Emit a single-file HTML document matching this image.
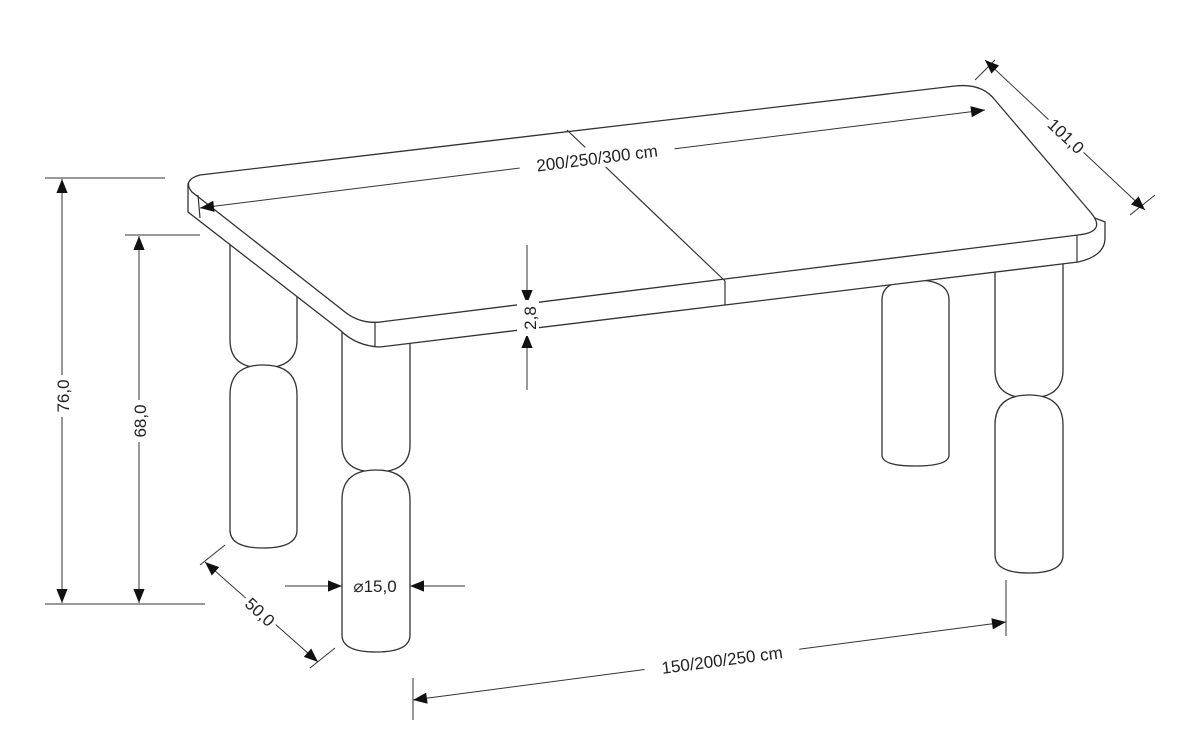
<!DOCTYPE html>
<html><head><meta charset="utf-8"><style>
html,body{margin:0;padding:0;background:#fff;}
svg{display:block;}
text{font-family:"Liberation Sans",sans-serif;font-size:17px;fill:#222;}
</style></head><body>
<svg width="1181" height="743" viewBox="0 0 1181 743" xmlns="http://www.w3.org/2000/svg">
<defs>
<marker id="a" viewBox="0 0 10 10" refX="10" refY="5" markerWidth="26" markerHeight="14" markerUnits="userSpaceOnUse" orient="auto-start-reverse"><path d="M0,1 L10,5 L0,9 Z" fill="#111"/></marker>
</defs>
<g fill="#fff" stroke="#333" stroke-width="1.3">
<path d="M882,300 L882,455 Q882,466 915,466 Q949,466 949,455 L949,300 Q949,280 915,280 Q882,280 882,300 Z"/>
<path d="M230,236 L230,340 Q230,368 263,368 Q297,368 297,340 L297,236 Z"/>
<path d="M230,395 Q230,365 263,365 Q297,365 297,395 L297,530 Q297,548 263,548 Q230,548 230,530 Z"/>
<path d="M995,255 L995,370 Q995,398 1029,398 Q1063,398 1063,370 L1063,255 Z"/>
<path d="M995,425 Q995,395 1029,395 Q1063,395 1063,425 L1063,555 Q1063,573 1029,573 Q995,573 995,555 Z"/>
<path d="M342,330 L342,445 Q342,472 376,472 Q410,472 410,445 L410,330 Z"/>
<path d="M342,500 Q342,470 376,470 Q410,470 410,500 L410,635 Q410,652 376,652 Q342,652 342,635 Z"/>
<path d="M188,185 L188,212 L340,330 Q356,346 380,347 L1078,262 Q1105,256 1105,238 L1105,222 L1095,218 L380,322 Q362,324 352,314 L192,192 Z"/>
<path d="M200,175 L955,86 Q982,83 995,100 L1092,214 Q1106,232 1078,235 L380,322 Q360,324 345,312 L192,192 Q182,180 200,175 Z"/>
</g>
<g stroke="#333" stroke-width="1.2" fill="none">
<line x1="375" y1="322" x2="375" y2="347"/>
<line x1="1077" y1="235" x2="1077" y2="262"/>
<line x1="567" y1="130" x2="725" y2="281"/>
<line x1="725" y1="281" x2="725" y2="305"/>
<line x1="198" y1="195" x2="200" y2="218"/>
</g>
<g stroke="#333" stroke-width="1" fill="none">
<line x1="45" y1="178" x2="165" y2="178"/>
<line x1="45" y1="604" x2="205" y2="604"/>
<line x1="125" y1="235" x2="200" y2="235"/>
<line x1="975" y1="80" x2="995" y2="60"/>
<line x1="1130" y1="215" x2="1155" y2="195"/>
<line x1="200" y1="565" x2="225" y2="545"/>
<line x1="310" y1="668" x2="335" y2="648"/>
<line x1="413" y1="678" x2="413" y2="720"/>
<line x1="1006" y1="580" x2="1006" y2="636"/>
<line x1="285" y1="586" x2="300" y2="586"/>
<line x1="450" y1="586" x2="465" y2="586"/>
</g>
<g stroke="#333" stroke-width="1" fill="none" marker-end="url(#a)" marker-start="url(#a)">
<line x1="62" y1="179" x2="62" y2="603"/>
<line x1="139" y1="236" x2="139" y2="603"/>
<line x1="200" y1="208" x2="985" y2="110"/>
<line x1="985" y1="60" x2="1145" y2="210"/>
<line x1="205" y1="562" x2="318" y2="662"/>
<line x1="413" y1="700" x2="1006" y2="622"/>
</g>
<g stroke="#333" stroke-width="1" fill="none" marker-end="url(#a)">
<line x1="527" y1="245" x2="527" y2="304"/>
<line x1="527" y1="390" x2="527" y2="334"/>
<line x1="290" y1="586" x2="342" y2="586"/>
<line x1="460" y1="586" x2="410" y2="586"/>
</g>
<g>
<rect x="50" y="375" width="24" height="42" fill="#fff"/>
<text transform="translate(69,396) rotate(-90)" text-anchor="middle">76,0</text>
<rect x="127" y="400" width="24" height="42" fill="#fff"/>
<text transform="translate(146,421) rotate(-90)" text-anchor="middle">68,0</text>
<rect x="517" y="300" width="22" height="36" fill="#fff"/>
<text transform="translate(536,318) rotate(-90)" text-anchor="middle">2,8</text>
<rect x="348" y="576" width="55" height="20" fill="#fff"/>
<text x="375" y="592" text-anchor="middle">⌀15,0</text>
<g transform="translate(597,158) rotate(-7.2)"><rect x="-78" y="-12" width="156" height="22" fill="#fff"/><text x="0" y="6" text-anchor="middle">200/250/300 cm</text></g>
<g transform="translate(722,660) rotate(-7.5)"><rect x="-78" y="-12" width="156" height="22" fill="#fff"/><text x="0" y="6" text-anchor="middle">150/200/250 cm</text></g>
<g transform="translate(1066,136) rotate(43)"><rect x="-24" y="-11" width="48" height="22" fill="#fff"/><text x="0" y="6" text-anchor="middle">101,0</text></g>
<g transform="translate(260,612) rotate(43)"><rect x="-20" y="-11" width="40" height="22" fill="#fff"/><text x="0" y="6" text-anchor="middle">50,0</text></g>
</g>
</svg>
</body></html>
